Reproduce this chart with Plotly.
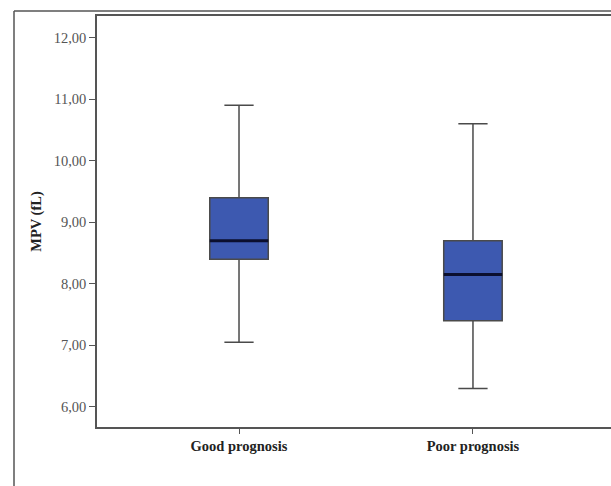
import plotly.graph_objects as go

categories = ["Good prognosis", "Poor prognosis"]
lower_whisker = [7.05, 6.30]
q1 = [8.40, 7.40]
median = [8.70, 8.15]
q3 = [9.40, 8.70]
upper_whisker = [10.90, 10.60]
y_ticks = [6, 7, 8, 9, 10, 11, 12]

xpos = list(range(len(categories)))
box_w = 0.25

fig = go.Figure()
fig.add_trace(go.Box(
    x=xpos, q1=q1, median=median, q3=q3,
    lowerfence=lower_whisker, upperfence=upper_whisker,
    width=box_w, whiskerwidth=0.5,
    fillcolor="#3D59B0",
    line=dict(color="#4a4a4a", width=1.5),
    boxpoints=False, showlegend=False, hoverinfo="skip",
))
for i, m in zip(xpos, median):
    fig.add_trace(go.Scatter(
        x=[i - box_w / 2, i + box_w / 2], y=[m, m], mode="lines",
        line=dict(color="#0b0f2e", width=3), showlegend=False, hoverinfo="skip",
    ))

font_serif = "Liberation Serif, Times New Roman, serif"
fig.update_layout(
    width=611, height=486,
    margin=dict(l=97, r=0, t=16, b=59),
    paper_bgcolor="white", plot_bgcolor="white",
    separators=",.",
    font=dict(family=font_serif, color="#333333", size=13),
    xaxis=dict(
        range=[-0.607, 1.59], tickmode="array", tickvals=xpos, ticktext=categories,
        showline=True, linecolor="#555555", linewidth=1.5, mirror=True,
        ticks="outside", ticklen=5, tickcolor="#555555", showgrid=False, zeroline=False,
        tickfont=dict(family=font_serif, size=14.5, color="#222222", weight="bold"),
        automargin=False,
    ),
    yaxis=dict(
        range=[5.675, 12.35], tickvals=y_ticks, tickformat=".2f",
        showline=True, linecolor="#555555", linewidth=1.5,
        ticks="outside", ticklen=6, tickcolor="#555555", showgrid=False, zeroline=False,
        tickfont=dict(family=font_serif, size=14.5, color="#555555"),
        title=dict(text="MPV (fL)", font=dict(family=font_serif, size=14.5, color="#222222", weight="bold"), standoff=9),
        automargin=False,
    ),
    shapes=[
        dict(type="line", xref="paper", yref="paper", x0=(14 - 97) / 514, x1=1.05,
             y0=(486 - 59 - 11) / 411, y1=(486 - 59 - 11) / 411,
             line=dict(color="#555555", width=1.5)),
        dict(type="line", xref="paper", yref="paper", x0=(14 - 97) / 514, x1=(14 - 97) / 514,
             y0=(486 - 59 - 11) / 411, y1=-59 / 411 - 0.05,
             line=dict(color="#555555", width=1.5)),
    ],
)
fig.write_html("out.html", config={"displayModeBar": False},
               post_script="document.body.style.margin='0';document.body.style.overflow='hidden';")
